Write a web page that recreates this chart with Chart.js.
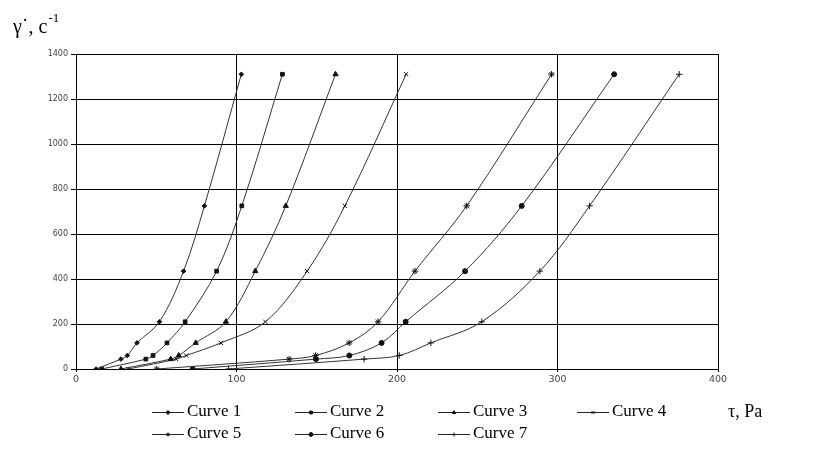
<!DOCTYPE html>
<html>
<head>
<meta charset="utf-8">
<script src="https://cdn.jsdelivr.net/npm/chart.js@4.4.0/dist/chart.umd.min.js"></script>
<style>
  html, body { margin: 0; padding: 0; background: #fff; }
  #wrap { width: 831px; height: 450px; position: relative; }
</style>
</head>
<body>
<div id="wrap"><canvas id="flow"></canvas></div>
<script>
'use strict';

// shear rate values shared by all curves (c^-1)
var rates = [0, 44, 60, 116, 210, 435, 725, 1310];

// shear stress for each curve (Pa)
var curve1 = [12.5, 28, 32, 38, 52, 67, 80, 103];
var curve2 = [16, 43.5, 48, 56.7, 68, 87.6, 103.3, 128.6];
var curve3 = [28, 59, 64, 74.6, 93.4, 111.7, 130.7, 161.7];
var curve4 = [32.5, 62.5, 68.7, 90.3, 118, 144, 167.5, 205.7];
var curve5 = [50.3, 132.8, 149.3, 170.2, 188.2, 211.2, 243.4, 296.3];
var curve6 = [72.7, 149.5, 170.3, 190.4, 205.4, 242.4, 277.7, 335.3];
var curve7 = [95, 179.5, 201.4, 221.1, 252.8, 289, 320, 375.8];

var names = ['Curve 1', 'Curve 2', 'Curve 3', 'Curve 4', 'Curve 5', 'Curve 6', 'Curve 7'];
var xTicks = [0, 100, 200, 300, 400];
var yTicks = [0, 200, 400, 600, 800, 1000, 1200, 1400];

var curves = [curve1, curve2, curve3, curve4, curve5, curve6, curve7];
var styles = [
  { pointStyle: 'rectRot', radius: 2.3 },
  { pointStyle: 'rect', radius: 2.6 },
  { pointStyle: 'triangle', radius: 3 },
  { pointStyle: 'crossRot', radius: 3 },
  { pointStyle: 'star', radius: 3.2 },
  { pointStyle: 'circle', radius: 2.5 },
  { pointStyle: 'cross', radius: 3.2 }
];

var sets = [];
curves.forEach(function(xs, i) {
  var pts = [];
  xs.forEach(function(x, j) { pts.push({ x: x, y: rates[j] }); });
  sets.push({
    label: names[i],
    data: pts,
    showLine: true,
    tension: 0.35,
    borderColor: '#333',
    backgroundColor: '#111',
    borderWidth: 1,
    pointStyle: styles[i].pointStyle,
    pointRadius: styles[i].radius,
    pointBorderColor: '#111',
    pointBackgroundColor: '#111',
    pointBorderWidth: 1
  });
});

// legend in two rows of four columns, plus axis titles
var extras = {
  id: 'extras',
  afterDraw: function(chart) {
    var ctx = chart.ctx;
    var cols = [152, 295, 438, 577];
    var rows = [412, 434];
    ctx.save();
    chart.data.datasets.forEach(function(ds, i) {
      var x0 = cols[i % 4];
      var y = rows[Math.floor(i / 4)];
      ctx.strokeStyle = '#222';
      ctx.lineWidth = 1;
      ctx.beginPath();
      ctx.moveTo(x0, y + 0.5);
      ctx.lineTo(x0 + 32, y + 0.5);
      ctx.stroke();
      ctx.fillStyle = '#111';
      ctx.strokeStyle = '#111';
      Chart.helpers.drawPoint(ctx, {
        pointStyle: ds.pointStyle,
        radius: 2,
        rotation: 0,
        borderWidth: 1
      }, x0 + 16, y + 0.5);
      ctx.fillStyle = '#000';
      ctx.font = '17px "Liberation Serif", "Times New Roman", serif';
      ctx.textBaseline = 'middle';
      ctx.textAlign = 'left';
      ctx.fillText(ds.label, x0 + 35, y);
    });

    ctx.font = '18px "Liberation Serif", "Times New Roman", serif';
    ctx.fillStyle = '#000';
    ctx.textBaseline = 'alphabetic';
    ctx.fillText('τ, Pa', 728, 417);

    var t = 'γ˙, c';
    ctx.font = '20px "Liberation Serif", "Times New Roman", serif';
    ctx.fillText(t, 13, 33);
    var w = ctx.measureText(t).width;
    ctx.font = '13px "Liberation Serif", "Times New Roman", serif';
    ctx.fillText('-1', 13 + w + 1, 22);
    ctx.restore();
  }
};

var canvas = document.getElementById('flow').getContext('2d');
new Chart(canvas, {
  type: 'scatter',
  data: { datasets: sets },
  plugins: [extras],
  options: {
    responsive: true,
    maintainAspectRatio: false,
    animation: false,
    layout: { padding: { left: 0, right: 113, top: 54, bottom: 61 } },
    plugins: {
      legend: { display: false },
      tooltip: { enabled: false }
    },
    scales: {
      x: {
        type: 'linear',
        min: 0,
        max: 400,
        afterBuildTicks: function(axis) {
          axis.ticks = xTicks.map(function(v) { return { value: v }; });
        },
        afterFit: function(axis) { axis.height = 20; },
        grid: { color: '#000', lineWidth: 1, tickLength: 3, drawTicks: true },
        border: { color: '#000', width: 1 },
        ticks: {
          color: '#444',
          padding: 2,
          maxRotation: 0,
          callback: function(v) { return String(v); },
          font: { family: '"DejaVu Sans", sans-serif', size: 9.5 }
        }
      },
      y: {
        type: 'linear',
        min: 0,
        max: 1400,
        afterBuildTicks: function(axis) {
          axis.ticks = yTicks.map(function(v) { return { value: v }; });
        },
        afterFit: function(axis) { axis.width = 76; },
        grid: { color: '#000', lineWidth: 1, tickLength: 5 },
        border: { color: '#000', width: 1 },
        ticks: {
          color: '#444',
          padding: 3,
          callback: function(v) { return String(v); },
          font: { family: '"DejaVu Sans", sans-serif', size: 8 }
        }
      }
    }
  }
});
</script>
</body>
</html>
